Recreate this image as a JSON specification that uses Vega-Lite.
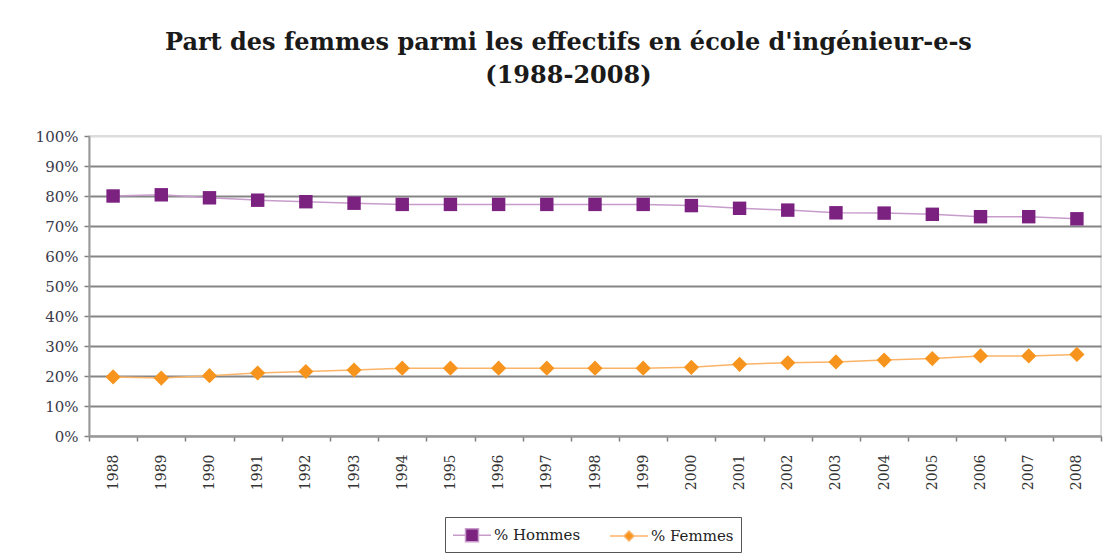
{
  "$schema": "https://vega.github.io/schema/vega-lite/v6.json",
  "width": 1012,
  "height": 300,
  "autosize": "none",
  "padding": {"left": 89, "top": 136, "right": 5, "bottom": 118},
  "background": "white",
  "title": {
    "text": ["Part des femmes parmi les effectifs en école d'ingénieur-e-s", "(1988-2008)"],
    "font": "DejaVu Serif",
    "fontSize": 24,
    "fontWeight": "bold",
    "color": "#1a1a1a",
    "lineHeight": 33,
    "anchor": "middle",
    "frame": "bounds",
    "offset": 41
  },
  "data": {
    "values": [
      {"year": "1988", "series": "% Hommes", "value": 80.0},
      {"year": "1989", "series": "% Hommes", "value": 80.4},
      {"year": "1990", "series": "% Hommes", "value": 79.4},
      {"year": "1991", "series": "% Hommes", "value": 78.6},
      {"year": "1992", "series": "% Hommes", "value": 78.1},
      {"year": "1993", "series": "% Hommes", "value": 77.6},
      {"year": "1994", "series": "% Hommes", "value": 77.2},
      {"year": "1995", "series": "% Hommes", "value": 77.2},
      {"year": "1996", "series": "% Hommes", "value": 77.2},
      {"year": "1997", "series": "% Hommes", "value": 77.2},
      {"year": "1998", "series": "% Hommes", "value": 77.2},
      {"year": "1999", "series": "% Hommes", "value": 77.2},
      {"year": "2000", "series": "% Hommes", "value": 76.8},
      {"year": "2001", "series": "% Hommes", "value": 75.9},
      {"year": "2002", "series": "% Hommes", "value": 75.3},
      {"year": "2003", "series": "% Hommes", "value": 74.4},
      {"year": "2004", "series": "% Hommes", "value": 74.3},
      {"year": "2005", "series": "% Hommes", "value": 73.9},
      {"year": "2006", "series": "% Hommes", "value": 73.1},
      {"year": "2007", "series": "% Hommes", "value": 73.1},
      {"year": "2008", "series": "% Hommes", "value": 72.4},
      {"year": "1988", "series": "% Femmes", "value": 19.7},
      {"year": "1989", "series": "% Femmes", "value": 19.3},
      {"year": "1990", "series": "% Femmes", "value": 20.1},
      {"year": "1991", "series": "% Femmes", "value": 21.0},
      {"year": "1992", "series": "% Femmes", "value": 21.5},
      {"year": "1993", "series": "% Femmes", "value": 22.0},
      {"year": "1994", "series": "% Femmes", "value": 22.6},
      {"year": "1995", "series": "% Femmes", "value": 22.6},
      {"year": "1996", "series": "% Femmes", "value": 22.6},
      {"year": "1997", "series": "% Femmes", "value": 22.6},
      {"year": "1998", "series": "% Femmes", "value": 22.6},
      {"year": "1999", "series": "% Femmes", "value": 22.6},
      {"year": "2000", "series": "% Femmes", "value": 22.9},
      {"year": "2001", "series": "% Femmes", "value": 23.9},
      {"year": "2002", "series": "% Femmes", "value": 24.4},
      {"year": "2003", "series": "% Femmes", "value": 24.7},
      {"year": "2004", "series": "% Femmes", "value": 25.3},
      {"year": "2005", "series": "% Femmes", "value": 25.8},
      {"year": "2006", "series": "% Femmes", "value": 26.7},
      {"year": "2007", "series": "% Femmes", "value": 26.7},
      {"year": "2008", "series": "% Femmes", "value": 27.2}
    ]
  },
  "encoding": {
    "x": {
      "field": "year",
      "type": "ordinal",
      "title": null,
      "scale": {"paddingInner": 0, "paddingOuter": 0},
      "axis": {
        "labelAngle": 270,
        "labelAlign": "right",
        "labelBaseline": "middle",
        "labelFont": "DejaVu Serif",
        "labelFontSize": 14,
        "labelColor": "#333333",
        "labelPadding": 13,
        "tickBand": "extent",
        "tickSize": 5,
        "tickColor": "#808080",
        "tickWidth": 1.5,
        "domainColor": "#9a9a9a",
        "domainWidth": 2,
        "grid": false
      }
    },
    "y": {
      "field": "value",
      "type": "quantitative",
      "title": null,
      "scale": {"domain": [0, 100], "nice": false},
      "axis": {
        "values": [0, 10, 20, 30, 40, 50, 60, 70, 80, 90, 100],
        "labelExpr": "datum.value + '%'",
        "labelFont": "DejaVu Serif",
        "labelFontSize": 15,
        "labelColor": "#3a3a4a",
        "labelPadding": 6,
        "tickSize": 5,
        "tickColor": "#808080",
        "tickWidth": 1.5,
        "domainColor": "#9a9a9a",
        "domainWidth": 2,
        "grid": true,
        "gridColor": {"condition": {"test": "datum.value === 100", "value": "#dcdcdc"}, "value": "#858585"},
        "gridWidth": 2
      }
    }
  },
  "layer": [
    {
      "mark": {"type": "line", "strokeWidth": 1.5},
      "encoding": {
        "color": {
          "field": "series",
          "type": "nominal",
          "sort": ["% Hommes", "% Femmes"],
          "scale": {"domain": ["% Hommes", "% Femmes"], "range": ["#c79ccb", "#fbb467"]},
          "legend": {
            "title": null,
            "orient": "none",
            "legendX": 356,
            "legendY": 381,
            "direction": "horizontal",
            "strokeColor": "#555555",
            "padding": 7,
            "labelFont": "DejaVu Serif",
            "labelFontSize": 15,
            "labelColor": "#222222",
            "symbolSize": 400,
            "columnPadding": 26,
            "labelOffset": 20,
            "encode": {
              "symbols": {
                "update": {
                  "shape": {"signal": "datum.value === '% Hommes' ? 'M-1,0H0.25M1.55,0H2.8M0.25,-0.65H1.55V0.65H0.25Z' : 'M-1,0H0.4M1.4,0H2.8M0.9,-0.5L1.4,0L0.9,0.5L0.4,0Z'"},
                  "fill": {"signal": "datum.value === '% Hommes' ? '#7b2180' : '#f7941d'"},
                  "stroke": {"signal": "datum.value === '% Hommes' ? '#c79ccb' : '#fbb467'"},
                  "strokeWidth": {"value": 1.5},
                  "opacity": {"value": 1},
                  "fillOpacity": {"value": 1}
                }
              }
            }
          }
        }
      }
    },
    {
      "mark": {"type": "point", "filled": true, "opacity": 1},
      "encoding": {
        "fill": {"condition": {"test": "datum.series === '% Hommes'", "value": "#7b2180"}, "value": "#f7941d"},
        "shape": {"condition": {"test": "datum.series === '% Hommes'", "value": "square"}, "value": "diamond"},
        "size": {"condition": {"test": "datum.series === '% Hommes'", "value": 180}, "value": 230}
      }
    }
  ],
  "config": {
    "view": {"stroke": "#d4d4d4", "strokeWidth": 1.5}
  }
}
